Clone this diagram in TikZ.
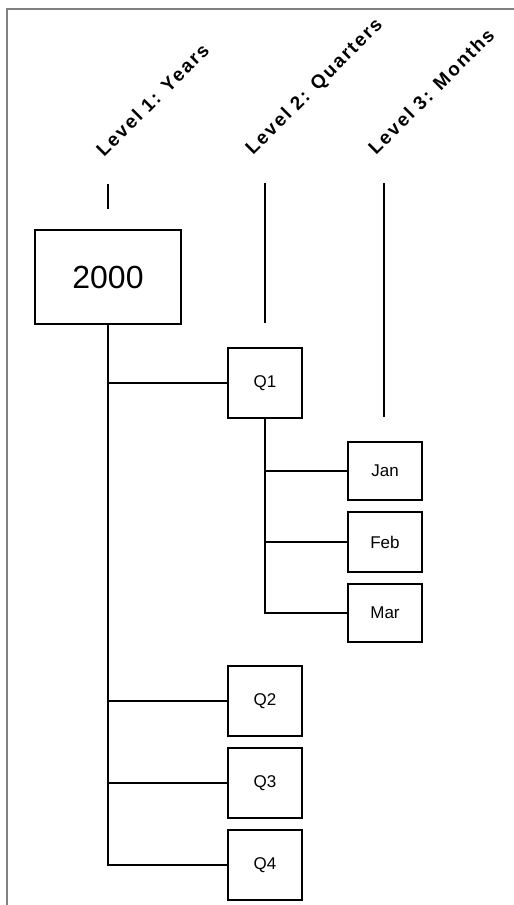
\documentclass[tikz,border=0pt]{standalone}
\usepackage{fontspec}
\setmainfont{Liberation Sans}
\begin{document}
\begin{tikzpicture}[x=1pt,y=-1pt,
  frame/.style={draw=black!50,line width=2pt},
  link/.style={draw=black,line width=1.8pt},
  box/.style={draw=black,line width=1.8pt,inner sep=0pt,font=\fontsize{17}{19}\selectfont},
  qbox/.style={box,minimum width=74pt,minimum height=70pt},
  mbox/.style={box,minimum width=74pt,minimum height=58pt},
  level/.style={rotate=45,anchor=base west,inner sep=0pt,font=\fontsize{19}{21}\selectfont\bfseries\addfontfeature{LetterSpace=10}}]
\useasboundingbox (0,0) rectangle (514,905);
\fill[white] (0,0) rectangle (514,905);
% frame
\draw[frame] (7,905) -- (7,9) -- (514,9);
% level labels
\node[level] (l1) at (104,158) {Level 1: Years};
\node[level] (l2) at (253,156) {Level 2: Quarters};
\node[level] (l3) at (376,156) {Level 3: Months};
% level guide lines
\coordinate (g1a) at (108,184); \coordinate (g1b) at (108,209);
\coordinate (g2a) at (265,183); \coordinate (g2b) at (265,323);
\coordinate (g3a) at (384,183); \coordinate (g3b) at (384,417);
\draw[link] (g1a) -- (g1b);
\draw[link] (g2a) -- (g2b);
\draw[link] (g3a) -- (g3b);
% nodes
\node[box,minimum width=146pt,minimum height=94pt,font=\fontsize{32}{36}\selectfont] (y2000) at (108,277) {2000};
\node[qbox] (q1) at (265,383) {Q1};
\node[mbox] (jan) at (385,471) {Jan};
\node[mbox,minimum height=60pt] (feb) at (385,542) {Feb};
\node[mbox] (mar) at (385,613) {Mar};
\node[qbox] (q2) at (265,701) {Q2};
\node[qbox] (q3) at (265,783) {Q3};
\node[qbox] (q4) at (265,865) {Q4};
% connectors
\draw[link] (y2000.south) |- (q1.west);
\draw[link] (y2000.south) |- (q2.west);
\draw[link] (y2000.south) |- (q3.west);
\draw[link] (y2000.south) |- (q4.west);
\draw[link] (q1.south) |- (jan.west);
\draw[link] (q1.south) |- (feb.west);
\draw[link] (q1.south) |- (mar.west);
\end{tikzpicture}
\end{document}
